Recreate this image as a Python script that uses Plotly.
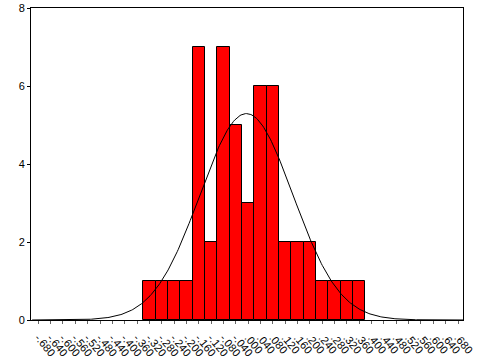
import numpy as np
import plotly.graph_objects as go

bin_centers = [-0.32, -0.28, -0.24, -0.20, -0.16, -0.12, -0.08, -0.04, 0.00,
               0.04, 0.08, 0.12, 0.16, 0.20, 0.24, 0.28, 0.32, 0.36]
counts = [1, 1, 1, 1, 7, 2, 7, 5, 3, 6, 6, 2, 2, 2, 1, 1, 1, 1]
tick_values = [round(-0.68 + 0.04 * i, 2) for i in range(35)]
y_ticks = [0, 2, 4, 6, 8]


def fmt(v):
    if abs(v) < 1e-9:
        return ".000"
    s = f"{v:.3f}"
    return s.replace("0.", ".", 1)


tick_labels = [fmt(v) for v in tick_values]

# Normal curve fitted to the histogram data
c = np.array(bin_centers)
n = np.array(counts)
N = n.sum()
mean = (c * n).sum() / N
sd = np.sqrt(((c - mean) ** 2 * n).sum() / (N - 1))
bw = 0.04
xs = np.linspace(-0.70, 0.70, 400)
ys = N * bw / (sd * np.sqrt(2 * np.pi)) * np.exp(-0.5 * ((xs - mean) / sd) ** 2)

fig = go.Figure()
fig.add_trace(go.Bar(x=bin_centers, y=counts, width=bw,
                     marker=dict(color="#ff0000", line=dict(color="black", width=1))))
fig.add_trace(go.Scatter(x=xs, y=ys, mode="lines",
                         line=dict(color="black", width=1)))

fig.update_layout(
    width=487, height=359,
    margin=dict(l=31, r=24, t=8, b=39),
    paper_bgcolor="white", plot_bgcolor="white",
    showlegend=False, bargap=0,
    font=dict(family="Liberation Sans, Arial, sans-serif", size=11, color="black"),
)
fig.update_xaxes(range=[-0.7036, 0.6962], tickvals=tick_values, ticktext=tick_labels,
                 tickangle=50, tickfont=dict(size=11), ticks="outside", ticklen=3,
                 ticklabelstandoff=3,
                 tickcolor="#666", showgrid=False, zeroline=False,
                 showline=True, linecolor="black", linewidth=1, mirror=True,
                 automargin=False)
fig.update_yaxes(range=[0, 8], tickvals=y_ticks, ticks="outside", ticklen=3,
                 tickcolor="black", showgrid=False, zeroline=False,
                 showline=True, linecolor="black", linewidth=1, mirror=True,
                 automargin=False)

fig.write_html("out.html")
